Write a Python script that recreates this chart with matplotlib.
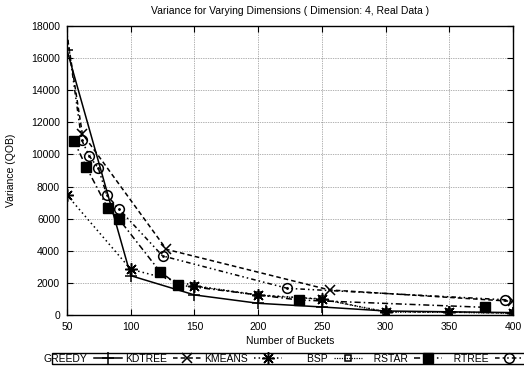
import matplotlib
matplotlib.use("Agg")
import matplotlib.pyplot as plt
from matplotlib.patches import Rectangle

plt.rcParams['font.family'] = ['Liberation Sans', 'DejaVu Sans']

# Series data: (number of buckets, variance)
greedy_x = [50, 100, 150, 200, 250, 300, 350, 400]
greedy_y = [16500, 2450, 1250, 730, 500, 250, 200, 150]

kdtree_x = [46, 62, 128, 256, 400]
kdtree_y = [19500, 11300, 4090, 1560, 850]

kmeans_x = [50, 100, 150, 200, 250, 300, 350, 400]
kmeans_y = [7470, 2850, 1820, 1250, 1000, 200, 180, 120]

bsp_x = [150, 200, 250, 300, 350, 400]
bsp_y = [1800, 1230, 980, 190, 170, 110]

rstar_x = [55.5, 65, 82, 91, 123, 137, 232, 378]
rstar_y = [10840, 9240, 6645, 5950, 2700, 1870, 934, 478]

rtree_x = [47, 61.5, 67.5, 74.6, 81.2, 91, 125, 223, 394]
rtree_y = [19200, 10900, 9900, 9140, 7470, 6580, 3680, 1660, 950]

labels = ["GREEDY", "KDTREE", "KMEANS", "BSP", "RSTAR", "RTREE"]
x_ticks = [50, 100, 150, 200, 250, 300, 350, 400]
y_ticks = list(range(0, 18001, 2000))

W, H = 524, 369
fig = plt.figure(figsize=(W / 100, H / 100), dpi=100)
ax = fig.add_axes([67 / W, 1 - 315 / H, (513 - 67) / W, (315 - 26) / H])

fs = 7.5
lw = 1.1
star = (8, 2, 0)

ax.plot(greedy_x, greedy_y, color='black', lw=lw, ls='-', marker='+', ms=9, mew=1.1,
        label=labels[0])
ax.plot(kdtree_x, kdtree_y, color='black', lw=lw, ls=(0, (3, 2)), marker='x', ms=7, mew=1.1,
        label=labels[1])
ax.plot(kmeans_x, kmeans_y, color='black', lw=lw, ls=(0, (1, 2)), marker=star, ms=9, mew=1.1,
        label=labels[2])
ax.plot(bsp_x, bsp_y, color='black', lw=lw * 0.8, ls=(0, (1, 1)), marker='s', ms=5,
        mfc='none', mew=1.1, label=labels[3])
ax.plot(rstar_x, rstar_y, color='black', lw=lw, ls=(0, (4, 2, 1, 2)), marker='s', ms=7,
        mfc='black', label=labels[4])
ax.plot(rtree_x, rtree_y, color='black', lw=lw, ls=(0, (3, 2, 1, 2, 1, 2)),
        marker='o', ms=7, mfc='none', mew=1.1, label=labels[5])
ax.plot(rtree_x, rtree_y, color='black', lw=0, marker='.', ms=2)

ax.set_xlim(50, 400)
ax.set_ylim(0, 18000)
ax.set_xticks(x_ticks)
ax.set_yticks(y_ticks)
ax.tick_params(direction='in', length=4, width=0.8, labelsize=fs, top=True, right=True,
               pad=5)
ax.grid(True, color='#666666', ls=(0, (1, 1.5)), lw=0.5)
for s in ax.spines.values():
    s.set_linewidth(1.0)

ax.set_title("Variance for Varying Dimensions ( Dimension: 4, Real Data )", fontsize=fs,
             pad=9)
ax.set_xlabel("Number of Buckets", fontsize=fs, labelpad=3)
ax.set_ylabel("Variance (QOB)", fontsize=fs, labelpad=11)

# Horizontal key below the plot, gnuplot style (right-justified label before sample)
handles, hl = ax.get_legend_handles_labels()
pad = {"BSP": 8, "RSTAR": 3, "RTREE": 3}
hl = [' ' * pad.get(t, 0) + t for t in hl]
leg = fig.legend(handles, hl, loc='center left', bbox_to_anchor=(44 / W, 1 - 358.5 / H),
                 ncol=6, markerfirst=False, fontsize=fs, handlelength=2.7,
                 handletextpad=0.6, columnspacing=0.25, borderpad=0,
                 borderaxespad=0, frameon=False)
fig.patches.append(Rectangle((52 / W, 1 - 363.5 / H), 0.99, 10.5 / H,
                             transform=fig.transFigure, fill=False, edgecolor='black',
                             lw=1.0))

fig.savefig("out.png", dpi=100)
